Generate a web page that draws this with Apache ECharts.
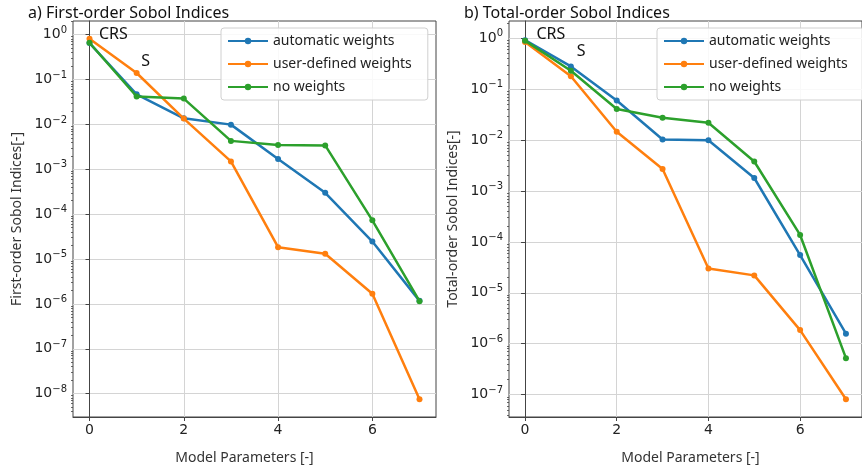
<!DOCTYPE html>
<html>
<head>
<meta charset="utf-8">
<script src="https://cdn.jsdelivr.net/npm/echarts@6/dist/echarts.min.js"></script>
<style>html,body{margin:0;padding:0;background:#fff}#c{width:862px;height:472px}</style>
</head>
<body>
<div id="c"></div>
<script>
// Model parameter index (x)
const params = [0, 1, 2, 3, 4, 5, 6, 7];
const seriesNames = ['automatic weights', 'user-defined weights', 'no weights'];

// a) First-order Sobol indices
const firstAuto = [0.65, 0.047, 0.0137, 0.0099, 0.0017, 3.0e-4, 2.45e-5, 1.17e-6];
const firstUser = [0.81, 0.14, 0.0135, 0.0015, 1.84e-5, 1.31e-5, 1.68e-6, 7.5e-9];
const firstNone = [0.66, 0.042, 0.0376, 0.0043, 0.0035, 0.0034, 7.3e-5, 1.15e-6];

// b) Total-order Sobol indices
const totalAuto = [0.92, 0.28, 0.060, 0.0103, 0.0099, 0.0018, 5.5e-5, 1.57e-6];
const totalUser = [0.85, 0.18, 0.0146, 0.0027, 3.0e-5, 2.2e-5, 1.85e-6, 8.1e-8];
const totalNone = [0.90, 0.23, 0.041, 0.0275, 0.022, 0.0038, 1.37e-4, 5.2e-7];

// tick values
const xTicks = [0, 2, 4, 6];
const yTicksFirst = [1e-8, 1e-7, 1e-6, 1e-5, 1e-4, 1e-3, 1e-2, 1e-1, 1];
const yTicksTotal = [1e-7, 1e-6, 1e-5, 1e-4, 1e-3, 1e-2, 1e-1, 1];

// annotations [x, y, text]
const annotFirst = [[0.2, 1.0, 'CRS'], [1.1, 0.25, 'S']];
const annotTotal = [[0.25, 1.2, 'CRS'], [1.13, 0.54, 'S']];

const colors = ['#1f77b4', '#ff7f0e', '#2ca02c'];
const uiFont = '"Noto Sans", "Open Sans", sans-serif';
const tickFont = '"DejaVu Sans", sans-serif';

function pairs(arr) { return params.map((p, i) => [p, arr[i]]); }

function fmt(v) {
  const e = Math.round(Math.log10(v));
  return '{b|10}{s|' + (e < 0 ? '\u2212' + (-e) : String(e)) + '}';
}

// log minor tick positions (2..9 times each decade)
function minorVals(lo, hi) {
  const out = [];
  for (let e = Math.floor(Math.log10(lo)); e <= Math.ceil(Math.log10(hi)); e++) {
    for (let m = 2; m <= 9; m++) {
      const v = m * Math.pow(10, e);
      if (v > lo && v < hi) out.push(v);
    }
  }
  return out;
}

const grids = [
  {left: 73, top: 21, width: 363, height: 396},
  {left: 509, top: 21, width: 364, height: 396}
];
const yRanges = [[Math.pow(10, -8.52), Math.pow(10, 0.305)], [Math.pow(10, -7.44), Math.pow(10, 0.34)]];
const yTicks = [yTicksFirst, yTicksTotal];
const yNames = ['First-order Sobol Indices[-]', 'Total-order Sobol Indices[-]'];
const gridLineStyle = {color: '#d4d4d4', width: 1};

const option = {
  animation: false,
  backgroundColor: '#fff',
  title: [
    {text: 'a) First-order Sobol Indices', left: 23, top: 0, textStyle: {fontFamily: uiFont, fontSize: 16, fontWeight: 'normal', color: '#111'}},
    {text: 'b) Total-order Sobol Indices', left: 459, top: 0, textStyle: {fontFamily: uiFont, fontSize: 16, fontWeight: 'normal', color: '#111'}}
  ],
  legend: [0, 1].map(k => ({
    data: seriesNames,
    orient: 'vertical',
    left: k === 0 ? 221 : 657,
    top: 28,
    itemWidth: 40,
    itemHeight: 8,
    itemGap: 9,
    padding: [6, 16, 6, 6],
    borderColor: '#d0d0d0',
    borderWidth: 1,
    borderRadius: 3,
    backgroundColor: 'rgba(255,255,255,0.85)',
    textStyle: {fontFamily: uiFont, fontSize: 14, color: '#222'},
    selectedMode: false,
    z: 10
  })),
  grid: grids.map(g => Object.assign({show: true, borderColor: '#444', borderWidth: 1, backgroundColor: 'transparent'}, g)),
  xAxis: [0, 1].map(k => ({
    type: 'value', gridIndex: k, min: -0.35, max: 7.35,
    name: 'Model Parameters [-]', nameLocation: 'middle', nameGap: 34,
    nameTextStyle: {fontFamily: uiFont, fontSize: 14, color: '#333', padding: k === 0 ? [0, 20, 0, 0] : [0, 0, 0, 10]},
    axisLine: {show: true, lineStyle: {color: '#444'}},
    axisTick: {show: true, length: 4, lineStyle: {color: '#444'}, customValues: xTicks},
    axisLabel: {fontFamily: tickFont, fontSize: 14, color: '#222', margin: 6, customValues: xTicks,
      formatter: v => String(Math.round(v))},
    splitLine: {show: true, lineStyle: gridLineStyle}
  })),
  yAxis: [],
  series: []
};

// main y axes (0,1) and minor-tick overlay axes (2,3)
[0, 1].forEach(k => {
  option.yAxis.push({
    type: 'log', logBase: 10, gridIndex: k, min: yRanges[k][0], max: yRanges[k][1],
    name: yNames[k], nameLocation: 'middle', nameGap: 49,
    nameTextStyle: {fontFamily: uiFont, fontSize: 14, color: '#333'},
    axisLine: {show: true, lineStyle: {color: '#444'}},
    axisTick: {show: true, length: 4, lineStyle: {color: '#444'}, customValues: yTicks[k]},
    axisLabel: {margin: 6, customValues: yTicks[k],
      formatter: fmt,
      rich: {
        b: {fontFamily: tickFont, fontSize: 14, color: '#222'},
        s: {fontFamily: tickFont, fontSize: 10, color: '#222', padding: [0, 0, 9, 0]}
      }},
    splitLine: {show: true, lineStyle: gridLineStyle}
  });
});
[0, 1].forEach(k => {
  option.yAxis.push({
    type: 'log', logBase: 10, gridIndex: k, min: yRanges[k][0], max: yRanges[k][1],
    position: 'left',
    axisLine: {show: false},
    axisTick: {show: true, length: 2, lineStyle: {color: '#444', width: 0.8}, customValues: minorVals(yRanges[k][0], yRanges[k][1])},
    axisLabel: {show: false},
    splitLine: {show: false}
  });
});

const sets = [[firstAuto, firstUser, firstNone], [totalAuto, totalUser, totalNone]];
const annots = [annotFirst, annotTotal];
[0, 1].forEach(k => {
  sets[k].forEach((arr, i) => {
    const s = {
      name: seriesNames[i], type: 'line', xAxisIndex: k, yAxisIndex: k,
      data: pairs(arr), symbol: 'circle', symbolSize: 6, showSymbol: true,
      lineStyle: {width: 2.5, color: colors[i]}, itemStyle: {color: colors[i]},
      z: 3 + i, clip: true
    };
    if (i === 0) {
      s.markPoint = {
        symbol: 'circle', symbolSize: 0, silent: true,
        data: annots[k].map(a => ({coord: [a[0], a[1]], value: a[2],
          label: {show: true, position: 'right', distance: 0, formatter: a[2],
            fontFamily: uiFont, fontSize: 16, color: '#111'}}))
      };
    }
    option.series.push(s);
  });
});

const chart = echarts.init(document.getElementById('c'), null, {renderer: 'canvas'});
chart.setOption(option);
</script>
</body>
</html>
